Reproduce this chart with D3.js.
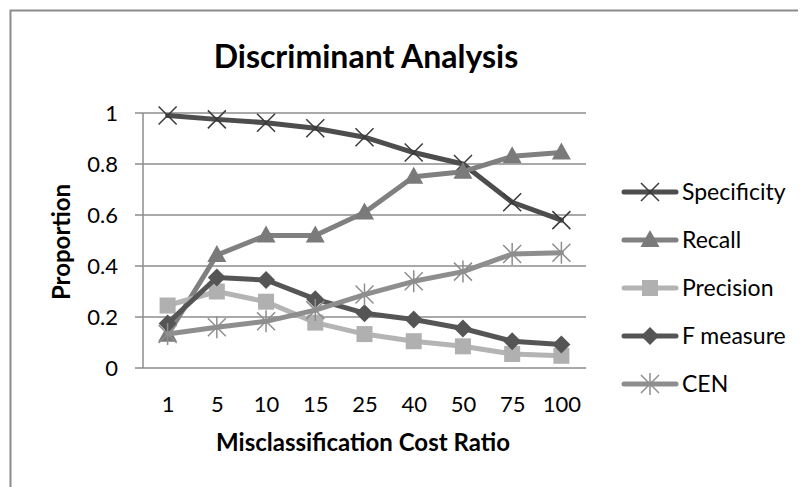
<!DOCTYPE html>
<html>
<head>
<meta charset="utf-8">
<script src="https://cdn.jsdelivr.net/npm/d3@7"></script>
<style>
  body { margin: 0; background: #fff; }
  svg text { font-family: Lato, "Open Sans", sans-serif; fill: #000; }
</style>
</head>
<body>
<svg id="chart" width="809" height="487"></svg>
<script>
const categories = ['1', '5', '10', '15', '25', '40', '50', '75', '100'];
const yTicks = [0, 0.2, 0.4, 0.6, 0.8, 1];

const specificity = [0.99, 0.975, 0.962, 0.94, 0.905, 0.845, 0.80, 0.65, 0.58];
const recall = [0.13, 0.443, 0.52, 0.52, 0.61, 0.75, 0.77, 0.83, 0.845];
const precision = [0.245, 0.30, 0.26, 0.178, 0.133, 0.105, 0.085, 0.055, 0.048];
const fMeasure = [0.175, 0.355, 0.345, 0.27, 0.215, 0.19, 0.155, 0.105, 0.092];
const cen = [0.133, 0.16, 0.183, 0.227, 0.288, 0.34, 0.378, 0.447, 0.452];

const series = [
  { name: 'Specificity', values: specificity, color: '#4d4d4d', marker: 'x', markerColor: '#3a3a3a' },
  { name: 'Recall', values: recall, color: '#808080', marker: 'triangle', markerColor: '#7a7a7a' },
  { name: 'Precision', values: precision, color: '#b4b4b4', marker: 'square', markerColor: '#b0b0b0' },
  { name: 'F measure', values: fMeasure, color: '#555555', marker: 'diamond', markerColor: '#555555' },
  { name: 'CEN', values: cen, color: '#8e8e8e', marker: 'star', markerColor: '#8e8e8e' }
];

const svg = d3.select('#chart');

// outer frame (only top and left visible in the picture)
svg.append('path')
  .attr('d', 'M10.5,487 V10.5 H798')
  .attr('fill', 'none')
  .attr('stroke', '#8c8c8c')
  .attr('stroke-width', 2);

const plot = { left: 143, right: 586, top: 113, bottom: 368 };

const x = d3.scalePoint()
  .domain(categories)
  .range([plot.left, plot.right])
  .padding(0.5);

const y = d3.scaleLinear()
  .domain([0, 1])
  .range([plot.bottom, plot.top]);

// gridlines
svg.append('g')
  .selectAll('line')
  .data(yTicks)
  .join('line')
  .attr('x1', plot.left - 8)
  .attr('x2', plot.right)
  .attr('y1', (d) => y(d))
  .attr('y2', (d) => y(d))
  .attr('stroke', '#8c8c8c')
  .attr('stroke-width', 1.5);

// y axis line
svg.append('line')
  .attr('x1', plot.left).attr('x2', plot.left)
  .attr('y1', plot.top).attr('y2', plot.bottom)
  .attr('stroke', '#8c8c8c')
  .attr('stroke-width', 1.5);

// y tick labels
const yAxis = svg.append('g')
  .attr('transform', `translate(${plot.left - 8},0)`)
  .call(d3.axisLeft(y).tickValues(yTicks).tickSize(0).tickPadding(17).tickFormat(d3.format('')));
yAxis.select('.domain').remove();
yAxis.selectAll('text')
  .style('font-size', '22px')
  .style('font-family', 'Lato, sans-serif')
  .attr('fill', '#000');

// x tick labels
const xAxis = svg.append('g')
  .attr('transform', `translate(0,${plot.bottom})`)
  .call(d3.axisBottom(x).tickSize(0).tickPadding(28));
xAxis.select('.domain').remove();
xAxis.selectAll('text')
  .style('font-size', '22px')
  .style('font-family', 'Lato, sans-serif')
  .attr('fill', '#000');

// titles
svg.append('text')
  .attr('x', 366).attr('y', 68)
  .attr('text-anchor', 'middle')
  .style('font-size', '32px')
  .style('font-weight', 'bold')
  .text('Discriminant Analysis');

svg.append('text')
  .attr('x', 363).attr('y', 451)
  .attr('text-anchor', 'middle')
  .style('font-size', '24px')
  .style('font-weight', 'bold')
  .text('Misclassification Cost Ratio');

svg.append('text')
  .attr('transform', 'translate(70,242) rotate(-90)')
  .attr('text-anchor', 'middle')
  .style('font-size', '24px')
  .style('font-weight', 'bold')
  .text('Proportion');

function drawMarker(g, type, color) {
  if (type === 'x') {
    g.append('path').attr('d', 'M-9,-9L9,9M-9,9L9,-9')
      .attr('stroke', color).attr('stroke-width', 1.5).attr('fill', 'none');
  } else if (type === 'triangle') {
    g.append('path').attr('d', 'M0,-10L9.5,7L-9.5,7Z').attr('fill', color);
  } else if (type === 'square') {
    g.append('rect').attr('x', -8).attr('y', -8).attr('width', 16).attr('height', 16).attr('fill', color);
  } else if (type === 'diamond') {
    g.append('path').attr('d', 'M0,-9L9,0L0,9L-9,0Z').attr('fill', color);
  } else if (type === 'star') {
    g.append('path').attr('d', 'M-9,-9L9,9M-9,9L9,-9M0,-11V11')
      .attr('stroke', color).attr('stroke-width', 1.5).attr('fill', 'none');
  }
}

const line = d3.line()
  .x((d, i) => x(categories[i]))
  .y((d) => y(d));

series.forEach((s) => {
  const g = svg.append('g');
  g.append('path')
    .attr('d', line(s.values))
    .attr('fill', 'none')
    .attr('stroke', s.color)
    .attr('stroke-width', 5)
    .attr('stroke-linejoin', 'round')
    .attr('stroke-linecap', 'round');
  s.values.forEach((v, i) => {
    const m = g.append('g').attr('transform', `translate(${x(categories[i])},${y(v)})`);
    drawMarker(m, s.marker, s.markerColor);
  });
});

// legend
const legend = svg.append('g');
series.forEach((s, i) => {
  const ly = 192 + i * 48;
  const item = legend.append('g').attr('transform', `translate(0,${ly})`);
  item.append('line')
    .attr('x1', 624).attr('x2', 676)
    .attr('stroke', s.color)
    .attr('stroke-width', 5)
    .attr('stroke-linecap', 'round');
  const m = item.append('g').attr('transform', 'translate(650,0)');
  drawMarker(m, s.marker, s.markerColor);
  item.append('text')
    .attr('x', 682).attr('y', 8)
    .style('font-size', '23px')
    .text(s.name);
});
</script>
</body>
</html>
